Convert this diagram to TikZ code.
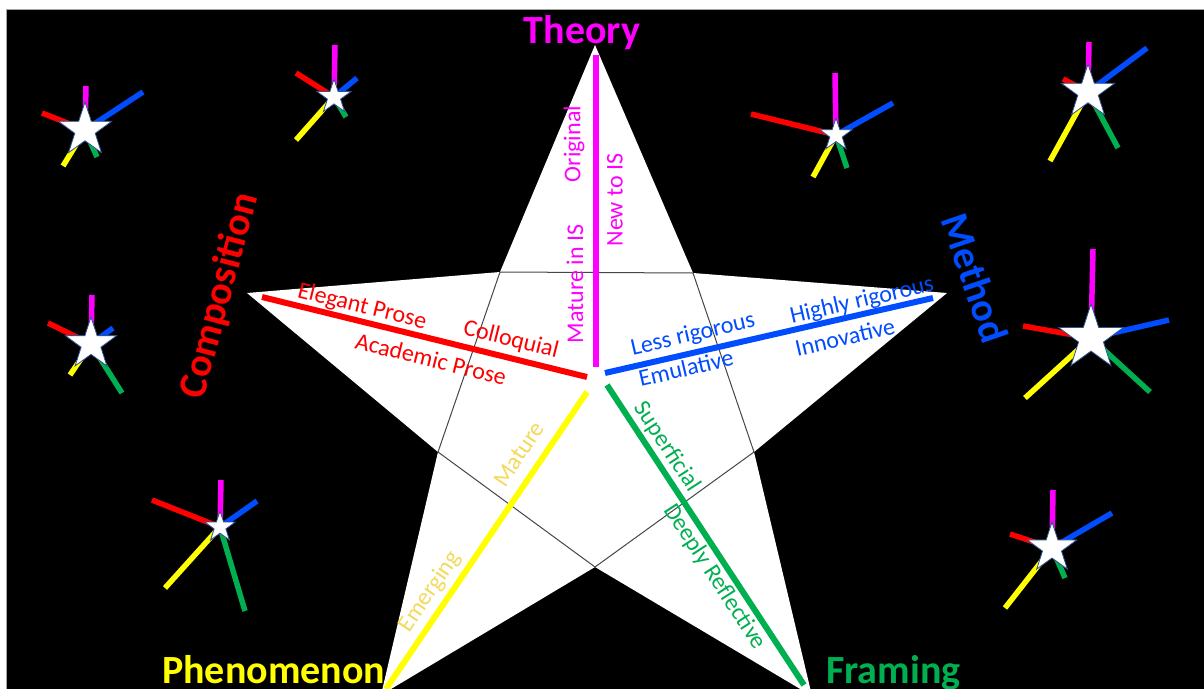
\documentclass[tikz,border=0pt]{standalone}
\usepackage{fontspec}
\setmainfont{Carlito}
\usetikzlibrary{shapes.geometric}

\definecolor{theorycol}{RGB}{255,0,255}
\definecolor{methodcol}{RGB}{0,76,255}
\definecolor{framecol}{RGB}{0,176,80}
\definecolor{phenocol}{RGB}{255,255,0}
\definecolor{phenotext}{RGB}{242,218,92}
\definecolor{compcol}{RGB}{255,0,0}
\definecolor{pentcol}{RGB}{70,70,70}
\definecolor{staredge}{RGB}{47,82,143}

\tikzset{
  axisline/.style={line width=6pt},
  spoke/.style={line width=5.5pt},
  pentline/.style={draw=pentcol, line width=1pt},
  minstar/.style={star, star points=5, star point ratio=2.6, inner sep=0pt, fill=white, draw=staredge, line width=0.8pt},
  dimtitle/.style={font=\fontsize{40}{48}\selectfont\bfseries, inner sep=0pt},
  polelabel/.style={font=\fontsize{24}{28}\selectfont, inner sep=0pt},
}

% small score star: name, centre, size, ends of theory/method/framing/phenomenon/composition spokes
\newcommand{\scorestar}[8]{%
  \coordinate (#1) at (#2);
  \coordinate (#1-t) at (#4);
  \coordinate (#1-m) at (#5);
  \coordinate (#1-f) at (#6);
  \coordinate (#1-p) at (#7);
  \coordinate (#1-c) at (#8);
  \draw[spoke, compcol] (#1) -- (#1-c);
  \draw[spoke, phenocol] (#1) -- (#1-p);
  \draw[spoke, framecol] (#1) -- (#1-f);
  \draw[spoke, methodcol] (#1) -- (#1-m);
  \draw[spoke, theorycol] (#1) -- (#1-t);
  \node[minstar, minimum size=#3] (#1-star) at (#1) {};
}

\begin{document}
\begin{tikzpicture}[x=1pt, y=-1pt]
    \useasboundingbox (0,0) rectangle (1204,688);
    % page and black field
    \fill[white] (0,0) rectangle (1204,688);
    \filldraw[fill=black, draw=gray!70, line width=0.8pt] (6.5,9.5) rectangle (1215,700);

    % big star
    \coordinate (tip-t) at (595,45);
    \coordinate (in-ur) at (693,273);
    \coordinate (tip-m) at (947,293);
    \coordinate (in-lr) at (754,452);
    \coordinate (tip-f) at (812,696);
    \coordinate (in-b) at (595,567);
    \coordinate (tip-p) at (381,695);
    \coordinate (in-ll) at (438,452);
    \coordinate (tip-c) at (247,293);
    \coordinate (in-ul) at (500,272);
    \fill[white] (tip-t) -- (in-ur) -- (tip-m) -- (in-lr) -- (tip-f) -- (in-b) -- (tip-p) -- (in-ll) -- (tip-c) -- (in-ul) -- cycle;
    \draw[pentline] (in-ul) -- (in-ur) -- (in-lr) -- (in-b) -- (in-ll) -- cycle;

    % axes
    \coordinate (t-out) at (596,55);
    \coordinate (t-hub) at (596,367);
    \coordinate (c-out) at (262,297);
    \coordinate (c-hub) at (587,377);
    \coordinate (m-hub) at (605,373);
    \coordinate (m-out) at (933,298);
    \coordinate (p-hub) at (587,392);
    \coordinate (p-out) at (386,689);
    \coordinate (f-hub) at (607,385);
    \coordinate (f-out) at (804,685);
    \draw[axisline, theorycol] (t-hub) -- (t-out);
    \draw[axisline, compcol] (c-hub) -- (c-out);
    \draw[axisline, methodcol] (m-hub) -- (m-out);
    \draw[axisline, phenocol] (p-hub) -- (p-out);
    \draw[axisline, framecol] (f-hub) -- (f-out);

    % dimension titles
    \node[dimtitle, text=theorycol, anchor=base] (theory) at (582,43) {Theory};
    \node[dimtitle, text=compcol, rotate=75] (composition) at (220,296) {Composition};
    \node[dimtitle, text=methodcol, rotate=-71] (method) at (975,278) {Method};
    \node[dimtitle, text=phenocol, anchor=base west] (phenomenon) at (162,683) {Phenomenon};
    \node[dimtitle, text=framecol, anchor=base west] (framing) at (826,683) {Framing};

    % pole labels
    \node[polelabel, text=theorycol, rotate=90] (original) at (574,144) {Original};
    \node[polelabel, text=theorycol, rotate=90] (matureis) at (575,284) {Mature in IS};
    \node[polelabel, text=theorycol, rotate=90] (newis) at (615,200) {New to IS};
    \node[polelabel, text=compcol, rotate=-14] (elegant) at (362,307) {Elegant Prose};
    \node[polelabel, text=compcol, rotate=-14] (colloquial) at (511,340) {Colloquial};
    \node[polelabel, text=compcol, rotate=-14] (academic) at (431,359) {Academic Prose};
    \node[polelabel, text=methodcol, rotate=13] (lessrig) at (693,335) {Less rigorous};
    \node[polelabel, text=methodcol, rotate=13] (emulative) at (686,368) {Emulative};
    \node[polelabel, text=methodcol, rotate=13] (highrig) at (862,301) {Highly rigorous};
    \node[polelabel, text=methodcol, rotate=13] (innovative) at (845,337) {Innovative};
    \node[polelabel, text=phenotext, rotate=56] (maturep) at (519,454) {Mature};
    \node[polelabel, text=phenotext, rotate=56] (emerging) at (430,592) {Emerging};
    \node[polelabel, text=framecol, rotate=-57] (superficial) at (667,447) {Superficial};
    \node[polelabel, text=framecol, rotate=-57] (deeply) at (715,577) {Deeply Reflective};

    % score stars
    \scorestar{sa}{85,130}{56}{86,86}{143,92}{97,157}{63,166}{42,113}
    \scorestar{sb}{334,97}{36}{335,45}{357,78}{346,117}{296,140}{296,73}
    \scorestar{sc}{836,135}{34}{835,73}{893,103}{847,168}{813,177}{751,114}
    \scorestar{sd}{1088,92}{56}{1089,42}{1147,48}{1118,148}{1050,161}{1063,79}
    \scorestar{se}{91,344}{54}{92,295}{113,328}{122,393}{70,375}{48,323}
    \scorestar{sf}{220,527}{32}{221,480}{257,501}{245,611}{165,588}{152,500}
    \scorestar{sg}{1091,338}{68}{1093,249}{1169,320}{1150,392}{1025,398}{1023,326}
    \scorestar{sh}{1052,548}{52}{1053,490}{1112,513}{1065,578}{1005,608}{1010,534}
\end{tikzpicture}
\end{document}
